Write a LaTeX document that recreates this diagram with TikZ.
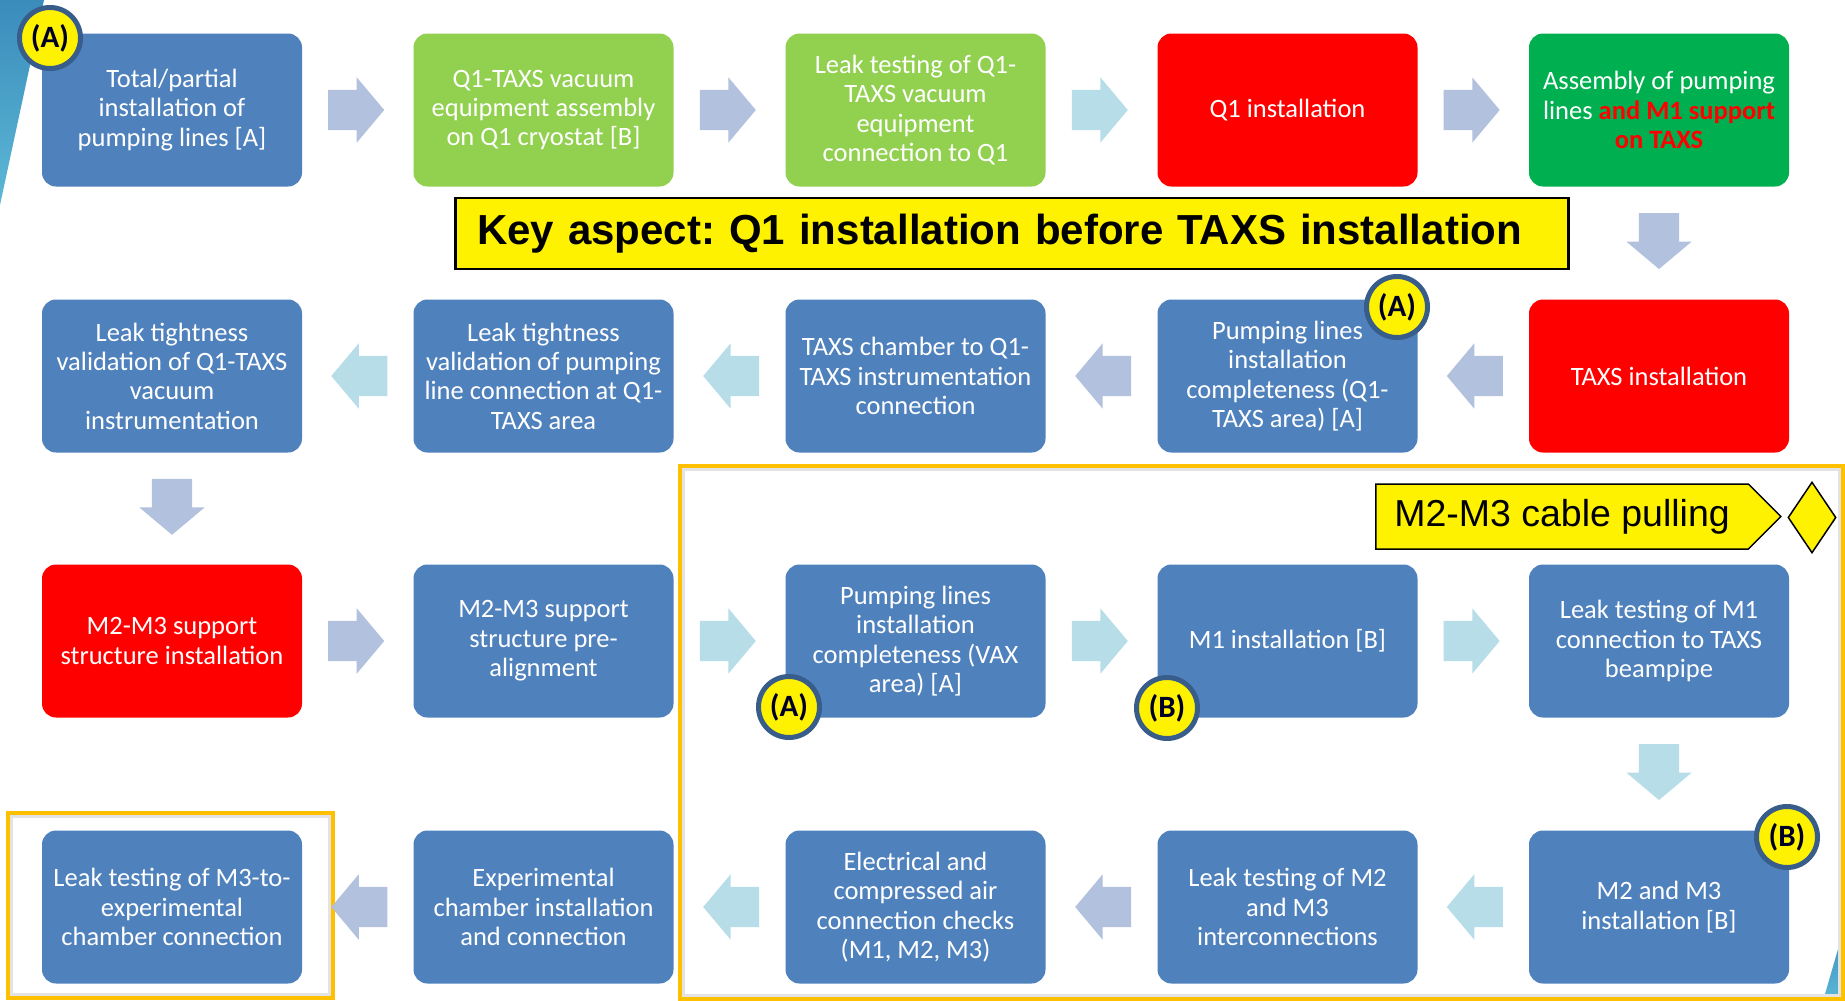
\documentclass[tikz,border=0pt]{standalone}
\usepackage{fontspec}
\setmainfont{Carlito}
\newfontfamily\arialfont{Liberation Sans}
\usetikzlibrary{shapes.arrows,shapes.symbols,shapes.geometric}
\frenchspacing

\definecolor{boxblue}{HTML}{4F81BD}
\definecolor{lightgreen}{HTML}{92D050}
\definecolor{darkgreen}{HTML}{00B050}
\definecolor{boxred}{HTML}{FF0000}
\definecolor{arrowgray}{HTML}{B2C1DD}
\definecolor{arrowblue}{HTML}{B7DDE8}
\definecolor{framecolor}{HTML}{FFC000}
\definecolor{badgeblue}{HTML}{385D8A}
\definecolor{stripedark}{HTML}{3A8CBB}
\definecolor{stripelight}{HTML}{5CB8D6}

\tikzset{
  task/.style={rounded corners=14pt, minimum width=260pt, minimum height=153pt,
    inner sep=2pt, align=center, text=white, font=\fontsize{26.5}{29.4}\selectfont},
  bluetask/.style={task, fill=boxblue},
  greentask/.style={task, fill=lightgreen},
  darktask/.style={task, fill=darkgreen},
  redtask/.style={task, fill=boxred},
  flow/.style={single arrow, draw=none, inner xsep=0pt, inner ysep=20pt, minimum height=56pt,
    minimum width=65pt, single arrow head extend=12.5pt, single arrow tip angle=100,
    pos=0.232, anchor=tail, sloped, allow upside down},
  badge/.style={circle, fill=yellow, draw=badgeblue, line width=5pt, minimum size=61pt,
    inner sep=0pt, text=black!85!blue, font=\fontsize{31}{31}\selectfont\bfseries},
  frame/.style={draw=framecolor, line width=4.5pt},
  keybox/.style={fill=yellow, draw=black, line width=2.5pt, minimum width=1113pt,
    minimum height=71pt, text width=1069pt, inner xsep=22pt, align=left,
    font=\arialfont\bfseries\fontsize{42}{42}\selectfont},
  cablesign/.style={signal, signal to=east, fill=yellow, draw=black, line width=1.5pt,
    minimum height=65pt, inner xsep=18.5pt, font=\arialfont\fontsize{37.5}{37.5}\selectfont},
  milestone/.style={diamond, fill=yellow, draw=black, line width=1.5pt,
    minimum width=48pt, minimum height=71pt, inner sep=0pt}
}

\begin{document}
\begin{tikzpicture}[x=1pt, y=-1pt]
  \useasboundingbox (0,0) rectangle (1845,1001);
  \fill[white] (0,0) rectangle (1845,1001);

  % Corner stripes
  \shade[top color=stripedark, bottom color=stripelight] (0,0) -- (44,0) -- (0,205) -- cycle;
  \shade[top color=stripedark, bottom color=stripelight] (1845,925) -- (1845,1001) -- (1823,1001) -- cycle;

  % Highlight frames
  \draw[gray!22, line width=2.5pt] (683.5,469.5) rectangle (1839.5,995.5);
  \draw[gray!22, line width=2.5pt] (11.5,816.5) rectangle (329.5,994.5);
  \draw[frame] (680,466) rectangle (1843,999);
  \draw[frame] (8,813) rectangle (333,998);

  % Row 1
  \node[bluetask] (pumplines) at (172,110) {Total/partial\\installation of\\pumping lines [A]};
  \node[greentask] (qoneassy) at (543.5,110) {Q1-TAXS vacuum\\equipment assembly\\on Q1 cryostat [B]};
  \node[greentask] (leakqone) at (915.5,110) {Leak testing of Q1-\\TAXS vacuum\\equipment\\connection to Q1};
  \node[redtask] (qoneinst) at (1287.5,110) {Q1 installation};
  \node[darktask] (pumpmone) at (1659,110) {Assembly of pumping\\lines {\bfseries\color{red}and M1 support}\\{\bfseries\color{red}on TAXS}};

  % Row 2
  \node[redtask] (taxsinst) at (1659,376) {TAXS installation};
  \node[bluetask] (pumpqone) at (1287.5,376) {Pumping lines\\installation\\completeness (Q1-\\TAXS area) [A]};
  \node[bluetask] (taxschamber) at (915.5,376) {TAXS chamber to Q1-\\TAXS instrumentation\\connection};
  \node[bluetask] (leakpump) at (543.5,376) {Leak tightness\\validation of pumping\\line connection at Q1-\\TAXS area};
  \node[bluetask] (leakinstr) at (172,376) {Leak tightness\\validation of Q1-TAXS\\vacuum\\instrumentation};

  % Row 3
  \node[redtask] (mtwosupport) at (172,641) {M2-M3 support\\structure installation};
  \node[bluetask] (mtwoalign) at (543.5,641) {M2-M3 support\\structure pre-\\alignment};
  \node[bluetask] (pumpvax) at (915.5,641) {Pumping lines\\installation\\completeness (VAX\\area) [A]};
  \node[bluetask] (moneinst) at (1287.5,641) {M1 installation [B]};
  \node[bluetask] (leakmone) at (1659,641) {Leak testing of M1\\connection to TAXS\\beampipe};

  % Row 4
  \node[bluetask] (mtwothree) at (1659,907) {M2 and M3\\installation [B]};
  \node[bluetask] (leakmtwo) at (1287.5,907) {Leak testing of M2\\and M3\\interconnections};
  \node[bluetask] (elecchecks) at (915.5,907) {Electrical and\\compressed air\\connection checks\\(M1, M2, M3)};
  \node[bluetask] (expchamber) at (543.5,907) {Experimental\\chamber installation\\and connection};
  \node[bluetask] (leakmthree) at (172,907) {Leak testing of M3-to-\\experimental\\chamber connection};

  % Flow arrows
  \path (pumplines) -- (qoneassy) node[flow, fill=arrowgray] {};
  \path (qoneassy) -- (leakqone) node[flow, fill=arrowgray] {};
  \path (leakqone) -- (qoneinst) node[flow, fill=arrowblue] {};
  \path (qoneinst) -- (pumpmone) node[flow, fill=arrowgray] {};
  \path (pumpmone) -- (taxsinst) node[flow, fill=arrowgray] {};
  \path (taxsinst) -- (pumpqone) node[flow, fill=arrowgray] {};
  \path (pumpqone) -- (taxschamber) node[flow, fill=arrowgray] {};
  \path (taxschamber) -- (leakpump) node[flow, fill=arrowblue] {};
  \path (leakpump) -- (leakinstr) node[flow, fill=arrowblue] {};
  \path (leakinstr) -- (mtwosupport) node[flow, fill=arrowgray] {};
  \path (mtwosupport) -- (mtwoalign) node[flow, fill=arrowgray] {};
  \path (mtwoalign) -- (pumpvax) node[flow, fill=arrowblue] {};
  \path (pumpvax) -- (moneinst) node[flow, fill=arrowblue] {};
  \path (moneinst) -- (leakmone) node[flow, fill=arrowblue] {};
  \path (leakmone) -- (mtwothree) node[flow, fill=arrowblue] {};
  \path (mtwothree) -- (leakmtwo) node[flow, fill=arrowblue] {};
  \path (leakmtwo) -- (elecchecks) node[flow, fill=arrowgray] {};
  \path (elecchecks) -- (expchamber) node[flow, fill=arrowblue] {};
  \path (expchamber) -- (leakmthree) node[flow, fill=arrowgray] {};

  % Key aspect and cable pulling
  \node[keybox, anchor=west] (keyaspect) at (454,233.5) {Key aspect: Q1 installation before TAXS installation};
  \node[cablesign, anchor=west] (cable) at (1375,516.5) {M2-M3 cable pulling};
  \node[milestone] (mile) at (1812,517.5) {};

  % Badges
  \node[badge] (badgeaone) at (50,38) {(A)};
  \node[badge] (badgeatwo) at (1397,307) {(A)};
  \node[badge] (badgeathree) at (789,707) {(A)};
  \node[badge] (badgebone) at (1167,708) {(B)};
  \node[badge] (badgebtwo) at (1787,837) {(B)};
\end{tikzpicture}
\end{document}
